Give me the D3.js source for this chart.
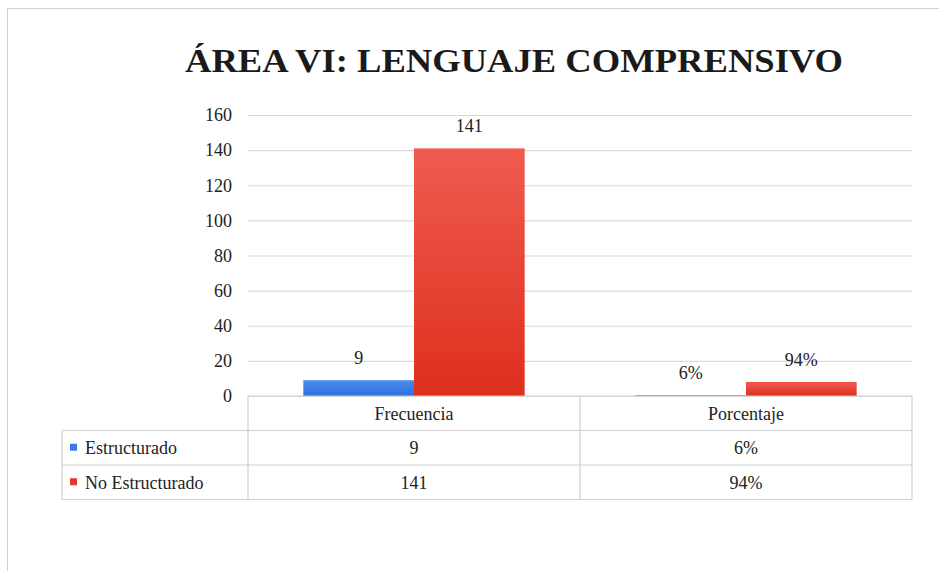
<!DOCTYPE html>
<html>
<head>
<meta charset="utf-8">
<script src="https://cdn.jsdelivr.net/npm/d3@7.9.0/dist/d3.min.js"></script>
<style>
  body { margin: 0; background: #fff; }
  svg { display: block; }
</style>
</head>
<body>
<svg id="chart" width="939" height="571"></svg>
<script>
// data
const categories = ['Frecuencia', 'Porcentaje'];
const seriesNames = ['Estructurado', 'No Estructurado'];
const estructurado = [9, 0.5];
const noEstructurado = [141, 8];
const estructuradoLabels = ['9', '6%'];
const noEstructuradoLabels = ['141', '94%'];
const yTicks = [0, 20, 40, 60, 80, 100, 120, 140, 160];

const FONT = 'Liberation Serif, Times New Roman, serif';
const colors = ['#3a7be4', '#e3392a'];
const series = [
  { name: seriesNames[0], values: estructurado, labels: estructuradoLabels },
  { name: seriesNames[1], values: noEstructurado, labels: noEstructuradoLabels },
];

const svg = d3.select('#chart').attr('font-family', FONT);

// gradients for the bars
const defs = svg.append('defs');
const gradStops = [['#4b8bef', '#2f6fdc'], ['#ef5b50', '#de2f1d']];
gradStops.forEach((s, i) => {
  const g = defs.append('linearGradient')
    .attr('id', 'grad' + i)
    .attr('x1', 0).attr('y1', 0).attr('x2', 0).attr('y2', 1);
  g.append('stop').attr('offset', '0%').attr('stop-color', s[0]);
  g.append('stop').attr('offset', '100%').attr('stop-color', s[1]);
});

// outer chart frame
svg.append('rect')
  .attr('x', 7.5).attr('y', 8.5)
  .attr('width', 960).attr('height', 600)
  .attr('fill', 'none')
  .attr('stroke', '#d0d0d0');

// title
svg.append('text')
  .attr('x', 514).attr('y', 72)
  .attr('text-anchor', 'middle')
  .attr('font-family', FONT)
  .attr('font-size', 33)
  .attr('font-weight', 'bold')
  .attr('fill', '#1a1a1a')
  .attr('textLength', 658)
  .attr('lengthAdjust', 'spacingAndGlyphs')
  .text('ÁREA VI:  LENGUAJE COMPRENSIVO');

// scales
const x = d3.scaleBand().domain(categories).range([248, 912]);
const xSub = d3.scaleBand().domain(seriesNames).range([0, x.bandwidth()]).paddingOuter(0.5);
const y = d3.scaleLinear().domain([0, 160]).range([396, 115]);

// gridlines
svg.append('g')
  .attr('transform', 'translate(248,0)')
  .call(d3.axisLeft(y).tickValues(yTicks).tickSize(-(912 - 248)).tickFormat(''))
  .call(g => g.select('.domain').remove())
  .call(g => g.selectAll('line').attr('stroke', '#d9d9d9').attr('stroke-width', 1.2));

// y labels
svg.append('g')
  .attr('transform', 'translate(248,0)')
  .call(d3.axisLeft(y).tickValues(yTicks).tickSize(0).tickPadding(16))
  .call(g => g.select('.domain').remove())
  .call(g => g.attr('font-family', FONT).attr('font-size', 18))
  .call(g => g.selectAll('text').attr('fill', '#222'));

// bars
const groups = svg.append('g').selectAll('g')
  .data(series)
  .join('g')
  .attr('fill', (d, i) => `url(#grad${i})`);

groups.selectAll('rect')
  .data(d => categories.map((c, j) => ({ cat: c, s: d.name, v: d.values[j], label: d.labels[j] })))
  .join('rect')
  .attr('x', d => x(d.cat) + xSub(d.s))
  .attr('y', d => y(d.v))
  .attr('width', xSub.bandwidth())
  .attr('height', d => y(0) - y(d.v));

// data labels
groups.selectAll('text')
  .data(d => categories.map((c, j) => ({ cat: c, s: d.name, v: d.values[j], label: d.labels[j] })))
  .join('text')
  .attr('x', d => x(d.cat) + xSub(d.s) + xSub.bandwidth() / 2)
  .attr('y', d => y(d.v) - 16)
  .attr('text-anchor', 'middle')
  .attr('font-size', 18)
  .attr('fill', '#222')
  .text(d => d.label);

// data table
const rowH = 34.5;
const tableTop = y(0);
const tableLeft = 62;
const line = (x1, y1, x2, y2) => svg.append('line')
  .attr('x1', x1).attr('y1', y1).attr('x2', x2).attr('y2', y2)
  .attr('stroke', '#cfcfcf').attr('stroke-width', 1.2);

// horizontal lines
line(248, tableTop, 912, tableTop);
[1, 2, 3].forEach(r => line(tableLeft, tableTop + r * rowH, 912, tableTop + r * rowH));
// vertical lines
line(tableLeft, tableTop + rowH, tableLeft, tableTop + 3 * rowH);
categories.forEach(c => line(x(c), tableTop, x(c), tableTop + 3 * rowH));
line(912, tableTop, 912, tableTop + 3 * rowH);

// header text
svg.append('g').selectAll('text')
  .data(categories)
  .join('text')
  .attr('x', d => x(d) + x.bandwidth() / 2)
  .attr('y', tableTop + rowH / 2)
  .attr('dy', '0.35em')
  .attr('text-anchor', 'middle')
  .attr('font-size', 18)
  .attr('fill', '#222')
  .text(d => d);

// rows
series.forEach((s, i) => {
  const cy = tableTop + rowH * (i + 1) + rowH / 2;
  svg.append('rect')
    .attr('x', 70).attr('y', cy - 4)
    .attr('width', 7).attr('height', 7)
    .attr('fill', colors[i]);
  svg.append('text')
    .attr('x', 85).attr('y', cy)
    .attr('dy', '0.35em')
    .attr('font-size', 18)
    .attr('fill', '#222')
    .text(s.name);
  categories.forEach((c, j) => {
    svg.append('text')
      .attr('x', x(c) + x.bandwidth() / 2)
      .attr('y', cy)
      .attr('dy', '0.35em')
      .attr('text-anchor', 'middle')
      .attr('font-size', 18)
      .attr('fill', '#222')
      .text(s.labels[j]);
  });
});
</script>
</body>
</html>
